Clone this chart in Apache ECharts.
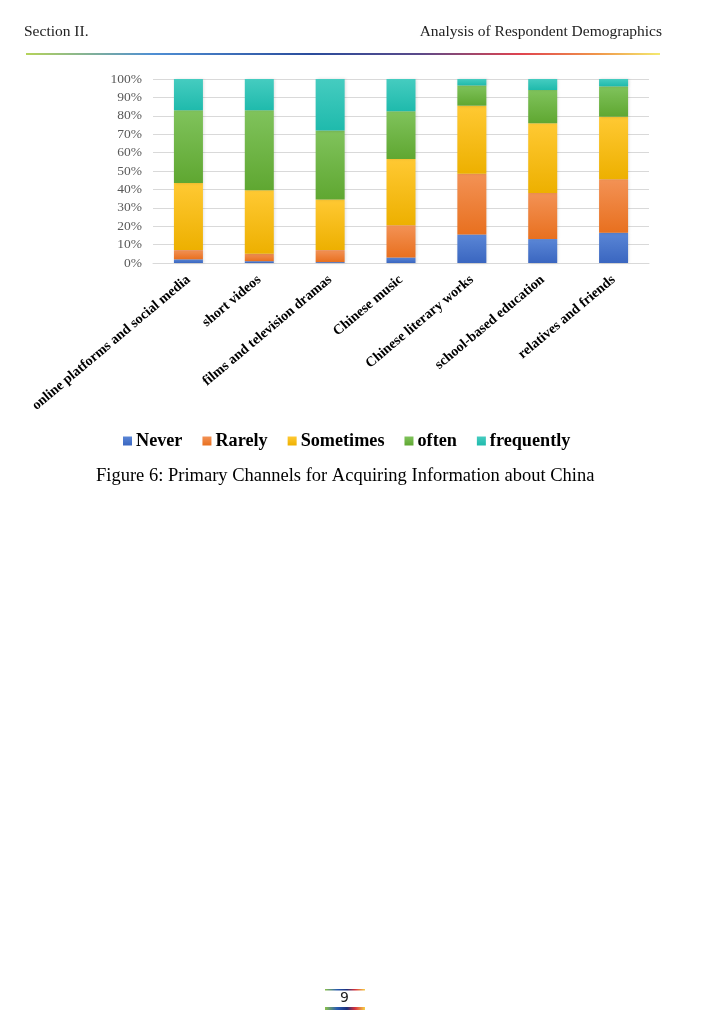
<!DOCTYPE html>
<html><head><meta charset="utf-8">
<script src="https://cdn.jsdelivr.net/npm/echarts@6/dist/echarts.min.js"></script>
<style>html,body{margin:0;padding:0;background:#fff}#c{width:724px;height:1024px}</style>
</head><body><div id="c"></div>
<script>
const categories = ['online platforms and social media','short videos','films and television dramas','Chinese music','Chinese literary works','school-based education','relatives and friends'];
const seriesNames = ['Never','Rarely','Sometimes','often','frequently'];
const never      = [2, 1, 0.5, 3, 15.5, 13, 16.5];
const rarely     = [5, 4, 6.5, 17.5, 33, 25, 29];
const sometimes  = [36.5, 34.5, 27.5, 36, 37, 38, 34];
const often      = [39.5, 43.5, 37.5, 26, 11, 18, 16.5];
const frequently = [17, 17, 28, 17.5, 3.5, 6, 4];
const yTicks = [0,10,20,30,40,50,60,70,80,90,100];

const colorPairs = [
  ['#5A86D6','#3A66C0'],
  ['#F39255','#E8701F'],
  ['#FFC933','#EDB000'],
  ['#80C35C','#5FA731'],
  ['#45CCC0','#1FBAAC']
];
const legendColors = ['#4472C4','#ED7D31','#FFC000','#70AD47','#2CC3B5'];
const values = [never, rarely, sometimes, often, frequently];

const serif = '"Liberation Serif","Times New Roman",serif';
const chart = echarts.init(document.getElementById('c'), null, {renderer:'canvas'});

function grad(stops){ return new echarts.graphic.LinearGradient(0,0,1,0, stops); }
const headerGrad = grad([
  {offset:0,color:'#b5d35a'},{offset:0.2,color:'#4f8fd4'},{offset:0.45,color:'#2a4c9c'},
  {offset:0.62,color:'#5a4a8a'},{offset:0.78,color:'#e0434f'},{offset:0.9,color:'#f0954a'},{offset:1,color:'#f4ea70'}]);
const pageGrad = grad([
  {offset:0,color:'#8cc24a'},{offset:0.3,color:'#2a5cb0'},{offset:0.55,color:'#1c2f7a'},
  {offset:0.75,color:'#d8303c'},{offset:1,color:'#f6d348'}]);

chart.setOption({
  animation:false,
  textStyle:{fontFamily:serif},
  grid:{left:153, right:75, top:79, bottom:761, containLabel:false},
  legend:{
    data:seriesNames, left:118, top:427, itemWidth:9, itemHeight:9, itemGap:20,
    icon:'rect',
    textStyle:{fontFamily:serif, fontWeight:'bold', fontSize:18.2, color:'#000', padding:[0,0,0,-1]}
  },
  xAxis:{
    type:'category', data:categories,
    axisLine:{lineStyle:{color:'#d9d9d9'}},
    axisTick:{show:false},
    axisLabel:{rotate:40, interval:0, margin:15, fontFamily:serif, fontWeight:'bold', fontSize:14, color:'#000'}
  },
  yAxis:{
    type:'value', min:0, max:100, interval:10,
    axisLabel:{formatter:v=>yTicks.includes(v)?v+'%':'', margin:11, fontFamily:serif, fontSize:13.5, color:'#595959'},
    axisLine:{show:false}, axisTick:{show:false},
    splitLine:{lineStyle:{color:'#d9d9d9'}}
  },
  series: seriesNames.map((n,i)=>({
    name:n, type:'bar', stack:'total', barWidth:29, data:values[i],
    itemStyle:{
      color:new echarts.graphic.LinearGradient(0,0,0,1,[{offset:0,color:colorPairs[i][0]},{offset:1,color:colorPairs[i][1]}]),
      shadowColor:'rgba(0,0,0,0.15)', shadowBlur:3, shadowOffsetX:1
    }
  })),
  color: legendColors,
  graphic:[
    {type:'text', left:24, top:24, style:{text:'Section II.', font:'15.5px '+serif, fill:'#222'}},
    {type:'text', right:62, top:24, style:{text:'Analysis of Respondent Demographics', font:'15.5px '+serif, fill:'#222'}},
    {type:'rect', shape:{x:26, y:53, width:634, height:2}, style:{fill:headerGrad}},
    {type:'text', left:96, top:467, style:{text:'Figure 6: Primary Channels for Acquiring Information about China', font:'18.5px '+serif, fill:'#000'}},
    {type:'rect', shape:{x:325, y:989, width:40, height:1.5}, style:{fill:pageGrad}},
    {type:'text', left:340, top:991, style:{text:'9', font:'14px "DejaVu Sans",sans-serif', fill:'#222'}},
    {type:'rect', shape:{x:325, y:1007, width:40, height:3}, style:{fill:pageGrad}}
  ]
});
</script></body></html>
